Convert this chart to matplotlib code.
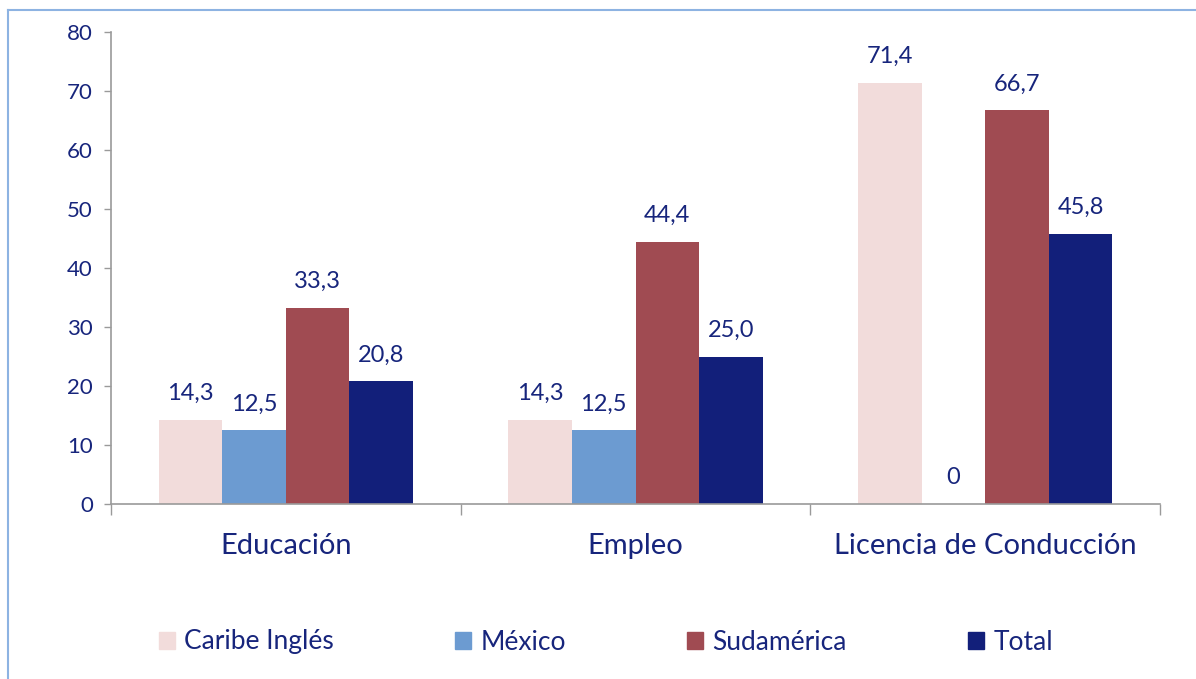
import matplotlib
matplotlib.use("Agg")
import matplotlib.pyplot as plt
import numpy as np
from matplotlib.lines import Line2D

categories = ["Educación", "Empleo", "Licencia de Conducción"]
series_names = ["Caribe Inglés", "México", "Sudamérica", "Total"]
caribe = [14.3, 14.3, 71.4]
mexico = [12.5, 12.5, 0]
sudamerica = [33.3, 44.4, 66.7]
total = [20.8, 25.0, 45.8]
yticks = [0, 10, 20, 30, 40, 50, 60, 70, 80]

colors = ["#F2DCDB", "#6C9BD1", "#A04B52", "#121F7A"]
text_color = "#17257C"

plt.rcParams['font.family'] = ['Lato', 'DejaVu Sans']

fig = plt.figure(figsize=(11.96, 6.79), dpi=100)
ax = fig.add_axes([111/1196, 1-504/679, (1160-111)/1196, (504-32)/679])

x = np.arange(len(categories))
bw = 0.182
values = [caribe, mexico, sudamerica, total]
for i, (vals, name, c) in enumerate(zip(values, series_names, colors)):
    pos = x + (i - 1.5) * bw
    ax.bar(pos, vals, width=bw, color=c, label=name, edgecolor='none')
    for p, v in zip(pos, vals):
        lbl = "0" if v == 0 else f"{v:.1f}".replace(".", ",")
        ax.annotate(lbl, (p, v), xytext=(0, 19), textcoords='offset points',
                    ha='center', va='center', fontsize=17, color=text_color)

ax.set_xlim(-0.5, 2.5)
ax.set_ylim(0, 80)
ax.set_yticks(yticks)
ax.set_yticklabels([str(t) for t in yticks], fontsize=16, color=text_color)
ax.set_xticks(x)
ax.set_xticklabels(categories, fontsize=21, color=text_color)
ax.tick_params(axis='x', which='major', length=0, pad=21)
ax.set_xticks([-0.5, 0.5, 1.5, 2.5], minor=True)
ax.tick_params(axis='x', which='minor', length=8, color='#9a9a9a', width=1)
ax.tick_params(axis='y', length=5, color='#9a9a9a', width=1, pad=8)
for s in ['top', 'right']:
    ax.spines[s].set_visible(False)
for s in ['left', 'bottom']:
    ax.spines[s].set_color('#9a9a9a')
    ax.spines[s].set_linewidth(1.2)

handles = [plt.Rectangle((0, 0), 1, 1, color=c) for c in colors]
fig.legend(handles, series_names, loc='center', bbox_to_anchor=(606/1196, 1-642/679),
           ncol=4, frameon=False, fontsize=19, handlelength=0.6, handleheight=0.6,
           handletextpad=0.35, columnspacing=4.6, labelcolor=text_color)

# figure border (top and left visible)
fig.add_artist(Line2D([8/1196, 8/1196], [0, 1-10/679], transform=fig.transFigure,
                      color='#8DB3E2', lw=1.5))
fig.add_artist(Line2D([8/1196, 1], [1-10/679, 1-10/679], transform=fig.transFigure,
                      color='#8DB3E2', lw=1.5))

fig.savefig("out.png", dpi=100)
